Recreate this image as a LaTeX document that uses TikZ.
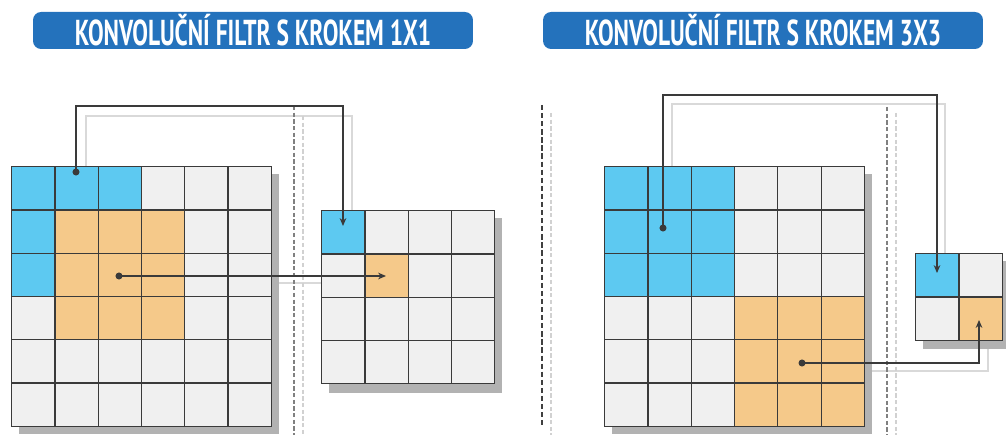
\documentclass[tikz,border=0pt]{standalone}
\usepackage{fontspec}
\setsansfont{PT Sans}
\usetikzlibrary{arrows.meta,positioning,calc}
\definecolor{titleblue}{HTML}{2472BC}
\definecolor{cellblue}{HTML}{5DC9F1}
\definecolor{cellorange}{HTML}{F5C98A}
\definecolor{cellgray}{HTML}{F0F0F0}
\definecolor{gridline}{HTML}{3A3A3A}

\begin{document}
\begin{tikzpicture}[
    x=0.02cm,
    y=-0.02cm,
    >={Stealth[length=4.5pt,width=3.8pt]},
    cell/.style={
        rectangle,
        draw=gridline,
        line width=0.7pt,
        fill=cellgray,
        minimum size=0.866cm,
        inner sep=0pt,
        anchor=north west
    },
    bluecell/.style={cell, fill=cellblue},
    orangecell/.style={cell, fill=cellorange},
    shadowbox/.style={fill=black!30},
    title/.style={
        rectangle,
        rounded corners=0.16cm,
        fill=titleblue,
        text=white,
        inner sep=0pt,
        minimum height=0.74cm,
        minimum width=8.8cm,
        font=\sffamily\bfseries\fontsize{20.5}{20.5}\selectfont
    },
    conn/.style={
        draw=gridline,
        line width=0.6pt
    },
    ghost/.style={
        draw=black!15,
        line width=1.6pt
    },
    darkdash/.style={draw=black!75, line width=1.5pt, dash pattern=on 3pt off 1.6pt},
    middash/.style={draw=black!50, line width=0.7pt, dash pattern=on 2.4pt off 1.4pt},
    lightdash/.style={draw=black!18, line width=1.2pt, dash pattern=on 2.4pt off 1.4pt},
    dot/.style={circle, fill=gridline, inner sep=0pt, minimum size=4pt}
]
\useasboundingbox (0,0) rectangle (1006,435);

% Titles
\node[title] (tleft) at (253,30.5)
    {\scalebox{0.65}[1]{KONVOLUČNÍ FILTR S KROKEM 1X1}};
\node[title] (tright) at (763,30.5)
    {\scalebox{0.65}[1]{KONVOLUČNÍ FILTR S KROKEM 3X3}};

% Ghost lines
\draw[ghost] (86,166) |- (352,116) -- (352,210);
\draw[ghost] (275,283) -- (321,283);
\draw[ghost] (672,166) |- (945,104) -- (945,253);
\draw[ghost] (866,371) -| (988,349);

% Separators
\draw[middash] (294,106) -- (294,435);
\draw[lightdash] (303,116) -- (303,435);
\draw[darkdash] (542,105) -- (542,428);
\draw[lightdash] (551,113) -- (551,435);
\draw[middash] (887,107) -- (887,435);
\draw[lightdash] (896,113) -- (896,435);

% Shadows
\fill[shadowbox] (19,174) rectangle (279,434);
\fill[shadowbox] (329,218) rectangle (502,393);
\fill[shadowbox] (612,174) rectangle (872,434);
\fill[shadowbox] (923,261) rectangle (1006,349);

% Input 1x1
\foreach \r in {0,...,5}
    \foreach \c in {0,...,5}
        \node[cell] (L-\r-\c) at ({11+43.3*\c},{166+43.3*\r}) {};
\foreach \r/\c in {0/0,0/1,0/2,1/0,2/0}
    \node[bluecell] (Lb-\r-\c) at ({11+43.3*\c},{166+43.3*\r}) {};
\foreach \r in {1,2,3}
    \foreach \c in {1,2,3}
        \node[orangecell] (Lo-\r-\c) at ({11+43.3*\c},{166+43.3*\r}) {};

% Output 1x1
\foreach \r in {0,...,3}
    \foreach \c in {0,...,3}
        \node[cell] (M-\r-\c) at ({321+43.3*\c},{210+43.3*\r}) {};
\node[bluecell] (Mb) at (321,210) {};
\node[orangecell] (Mo) at (364.3,253.3) {};

% Input 3x3
\foreach \r in {0,...,5}
    \foreach \c in {0,...,5}
        \node[cell] (R-\r-\c) at ({604+43.3*\c},{166+43.3*\r}) {};
\foreach \r in {0,1,2}
    \foreach \c in {0,1,2}
        \node[bluecell] (Rb-\r-\c) at ({604+43.3*\c},{166+43.3*\r}) {};
\foreach \r in {3,4,5}
    \foreach \c in {3,4,5}
        \node[orangecell] (Ro-\r-\c) at ({604+43.3*\c},{166+43.3*\r}) {};

% Output 3x3
\node[bluecell] (Sb) at (915,253) {};
\node[cell] (S-0-1) at (958.3,253) {};
\node[cell] (S-1-0) at (915,296.3) {};
\node[orangecell] (So) at (958.3,296.3) {};

% Connectors
\node[dot] (ldotA) at (76,172) {};
\node[dot] (ldotB) at (119,276) {};
\node[dot] (rdotA) at (663,228) {};
\node[dot] (rdotB) at (802,363) {};

\coordinate (ltipA) at (343,226);
\coordinate (ltipB) at (386,276);
\coordinate (rtipA) at (937,273);
\coordinate (rtipB) at (979,320);

\draw[conn,->] (ldotA.center) |- (343,106) -- (ltipA);
\draw[conn,->] (ldotB.center) -- (ltipB);
\draw[conn,->] (rdotA.center) |- (937,95) -- (rtipA);
\draw[conn,->] (rdotB.center) -| (rtipB);

\end{tikzpicture}
\end{document}
